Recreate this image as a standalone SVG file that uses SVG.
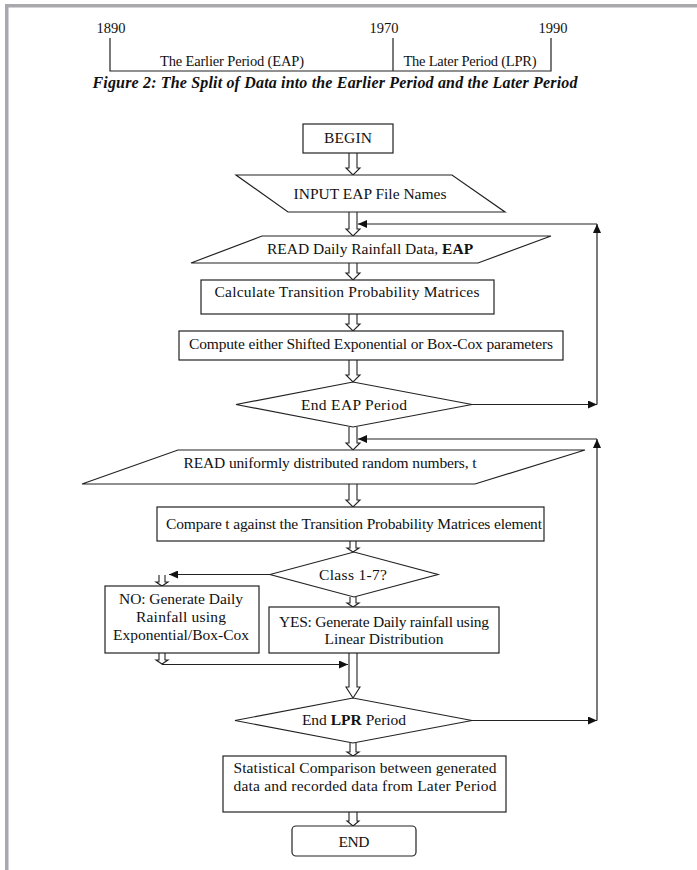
<svg xmlns="http://www.w3.org/2000/svg" width="697" height="870" viewBox="0 0 697 870">
<style>
text{font-family:"Liberation Serif","Times New Roman",serif;font-size:15.5px;fill:#111;text-anchor:middle}
.tl{font-size:14.5px}
.cap{font-weight:bold;font-style:italic;font-size:16px}
.b{font-weight:bold}
.box{fill:#fff;stroke:#222;stroke-width:1.2}
.ln{fill:none;stroke:#222;stroke-width:1.2}
.ha{fill:#fff;stroke:#222;stroke-width:1.1}
.fb{fill:none;stroke:#222;stroke-width:1.2;marker-end:url(#ah)}
</style>
<defs>
<marker id="ah" markerUnits="userSpaceOnUse" markerWidth="10" markerHeight="8" refX="9" refY="4" orient="auto">
<path d="M0,0 L9,4 L0,8 Z" fill="#111"/>
</marker>
</defs>
<rect width="697" height="870" fill="#fff"/>
<g id="frame">
<rect x="5" y="4" width="692" height="3.5" fill="#a9a9ad"/>
<rect x="5" y="4" width="3.5" height="866" fill="#a9a9ad"/>
</g>
<g id="timeline">
<path class="ln" d="M110,38 V71 H551 V38 M393,38 V71"/>
<text class="tl" x="111" y="33">1890</text>
<text class="tl" x="384" y="33">1970</text>
<text class="tl" x="553" y="33">1990</text>
<text class="tl" x="232" y="66" textLength="144">The Earlier Period (EAP)</text>
<text class="tl" x="470" y="66" textLength="133">The Later Period (LPR)</text>
<text class="cap" x="335" y="88" textLength="485">Figure 2: The Split of Data into the Earlier Period and the Later Period</text>
</g>
<g id="connectors">
<path class="ha" d="M349,153 V168 H346 L353,175 L360,168 H357 V153"/>
<path class="ha" d="M349,212 V229 H346 L353,236 L360,229 H357 V212"/>
<path class="ha" d="M349,263 V273 H346 L353,280 L360,273 H357 V263"/>
<path class="ha" d="M349,314 V324 H346 L353,331 L360,324 H357 V314"/>
<path class="ha" d="M349,360 V375 H346 L353,382 L360,375 H357 V360"/>
<path class="ha" d="M349,427 V443 H346 L353,450 L360,443 H357 V427"/>
<path class="ha" d="M349,484 V500 H346 L353,507 L360,500 H357 V484"/>
<path class="ha" d="M350,541 V548 H347 L353,552 L359,548 H356 V541"/>
<path class="ha" d="M350,597 V603 H347 L353,607 L359,603 H356 V597"/>
<path class="ha" d="M159,575 V582 H156 L162,586 L168,582 H165 V575"/>
<path class="ha" d="M159,653 V660 H156 L162,664 L168,660 H165 V653"/>
<path class="ha" d="M349,653 V687 H346 L353,698 L360,687 H357 V653"/>
<path class="ha" d="M350,743 V752 H347 L353,756 L359,752 H356 V743"/>
<path class="ha" d="M349,812 V821 H347 L353,826 L359,821 H357 V812"/>
<line class="fb" x1="472" y1="404.5" x2="597" y2="404.5"/>
<line class="fb" x1="597" y1="404.5" x2="597" y2="224"/>
<line class="fb" x1="597" y1="224" x2="358" y2="224"/>
<line class="fb" x1="472" y1="720.5" x2="597" y2="720.5"/>
<line class="fb" x1="597" y1="720.5" x2="597" y2="439"/>
<line class="fb" x1="597" y1="439" x2="358" y2="439"/>
<line class="fb" x1="270" y1="574.5" x2="169" y2="574.5"/>
<line class="fb" x1="162" y1="664.5" x2="348" y2="664.5"/>
</g>
<g id="begin">
<rect class="box" x="303" y="124" width="90" height="29"/>
<text x="348" y="143" textLength="48">BEGIN</text>
</g>
<g id="input-eap">
<polygon class="box" points="236,175 452,175 505,212 288,212"/>
<text x="370" y="199" textLength="153">INPUT EAP File Names</text>
</g>
<g id="read-eap">
<polygon class="box" points="262,236 551,236 478,263 191,263"/>
<text x="370" y="254">READ Daily Rainfall Data, <tspan class="b">EAP</tspan></text>
</g>
<g id="calc-tpm">
<rect class="box" x="201" y="280" width="293" height="34"/>
<text x="347" y="297" textLength="265">Calculate Transition Probability Matrices</text>
</g>
<g id="compute-params">
<rect class="box" x="179" y="331" width="384" height="29"/>
<text x="371" y="349" textLength="364">Compute either Shifted Exponential or Box-Cox parameters</text>
</g>
<g id="end-eap">
<polygon class="box" points="236,404.5 353,382 472,404.5 353,427"/>
<text x="354" y="410" textLength="106">End EAP Period</text>
</g>
<g id="read-random">
<polygon class="box" points="178,450 585,450 475,484 82,484"/>
<text x="330" y="468" textLength="293">READ uniformly distributed random numbers, t</text>
</g>
<g id="compare">
<rect class="box" x="157" y="507" width="387" height="34"/>
<text x="354" y="529" textLength="376">Compare t against the Transition Probability Matrices element</text>
</g>
<g id="class">
<polygon class="box" points="270,574.5 354,552 438,574.5 354,597"/>
<text x="353" y="580" textLength="68">Class 1-7?</text>
</g>
<g id="no-branch">
<rect class="box" x="105" y="586" width="154" height="67"/>
<text x="181" y="604" textLength="124">NO: Generate Daily</text>
<text x="181" y="622" textLength="90">Rainfall using</text>
<text x="181" y="640" textLength="136">Exponential/Box-Cox</text>
</g>
<g id="yes-branch">
<rect class="box" x="269" y="607" width="230" height="46"/>
<text x="384" y="627" textLength="210">YES: Generate Daily rainfall using</text>
<text x="384" y="644" textLength="119">Linear Distribution</text>
</g>
<g id="end-lpr">
<polygon class="box" points="235,720.5 353,698 472,720.5 353,743"/>
<text x="354" y="725">End <tspan class="b">LPR</tspan> Period</text>
</g>
<g id="statistical">
<rect class="box" x="223" y="756" width="283" height="56"/>
<text x="365" y="773" textLength="263">Statistical Comparison between generated</text>
<text x="365" y="791" textLength="263">data and recorded data from Later Period</text>
</g>
<g id="end">
<rect class="box" x="292" y="826" width="124" height="30" rx="4"/>
<text x="354" y="847" textLength="31">END</text>
</g>
</svg>
